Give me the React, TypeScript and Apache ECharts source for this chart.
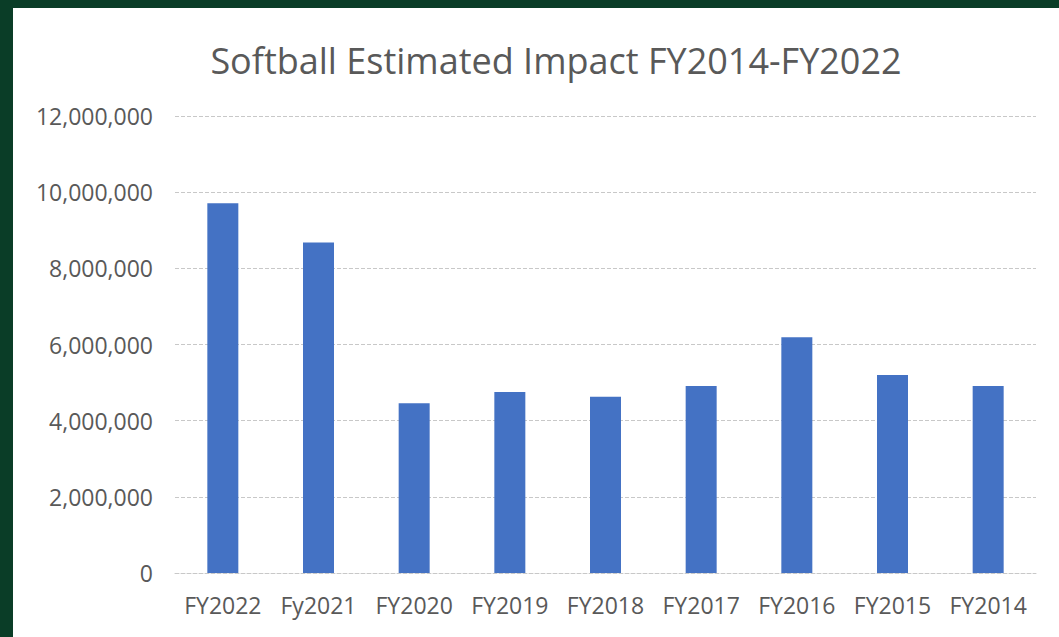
import React, { useEffect, useRef } from "react";
import * as echarts from "echarts";

const categories = ["FY2022", "Fy2021", "FY2020", "FY2019", "FY2018", "FY2017", "FY2016", "FY2015", "FY2014"];
const impactValues = [9710000, 8680000, 4460000, 4750000, 4630000, 4910000, 6190000, 5200000, 4910000];
const titleText = "Softball Estimated Impact FY2014-FY2022";
const yMin = 0;
const yMax = 12000000;
const yInterval = 2000000;

const FONT = "'Open Sans', 'Noto Sans', sans-serif";
const TEXT_COLOR = "#595959";
const GRID_COLOR = "#C8C8C8";

export default function App() {
  const ref = useRef<HTMLDivElement>(null);

  useEffect(() => {
    if (!ref.current) return;
    const chart = echarts.init(ref.current, undefined, { renderer: "svg" });
    chart.setOption({
      animation: false,
      backgroundColor: "#ffffff",
      graphic: [
        {
          type: "text",
          x: 543,
          y: 52,
          style: {
            text: titleText,
            fontFamily: FONT,
            fontSize: 36,
            fill: TEXT_COLOR,
            textAlign: "center",
            textVerticalAlign: "middle",
          },
        },
      ],
      grid: { left: 162, right: 23, top: 108, bottom: 64, containLabel: false },
      xAxis: {
        type: "category",
        data: categories,
        axisTick: { show: false },
        axisLine: { show: true, lineStyle: { color: GRID_COLOR, type: [4, 2], width: 1 } },
        axisLabel: { color: TEXT_COLOR, fontFamily: FONT, fontSize: 23, margin: 20, interval: 0, hideOverlap: false },
      },
      yAxis: {
        type: "value",
        min: yMin,
        max: yMax,
        interval: yInterval,
        axisLine: { show: false },
        axisTick: { show: false },
        splitLine: { show: true, lineStyle: { color: GRID_COLOR, type: [4, 2], width: 1 } },
        axisLabel: {
          color: TEXT_COLOR,
          fontFamily: FONT,
          fontSize: 23,
          margin: 22,
          formatter: (v: number) => v.toLocaleString("en-US"),
        },
      },
      series: [
        {
          type: "bar",
          data: impactValues,
          barWidth: 31,
          itemStyle: { color: "#4472C4" },
        },
      ],
    });
    return () => chart.dispose();
  }, []);

  return (
    <div style={{ position: "absolute", left: 0, top: 0, width: 1059, height: 637, background: "#0A3D27", overflow: "hidden" }}>
      <div style={{ position: "absolute", left: 13, top: 8, width: 1046, height: 629, background: "#fff", borderTop: "2px solid #E3E3E3", boxSizing: "border-box" }}>
        <div ref={ref} style={{ position: "absolute", left: 0, top: -2, width: 1046, height: 629 }} />
      </div>
    </div>
  );
}
